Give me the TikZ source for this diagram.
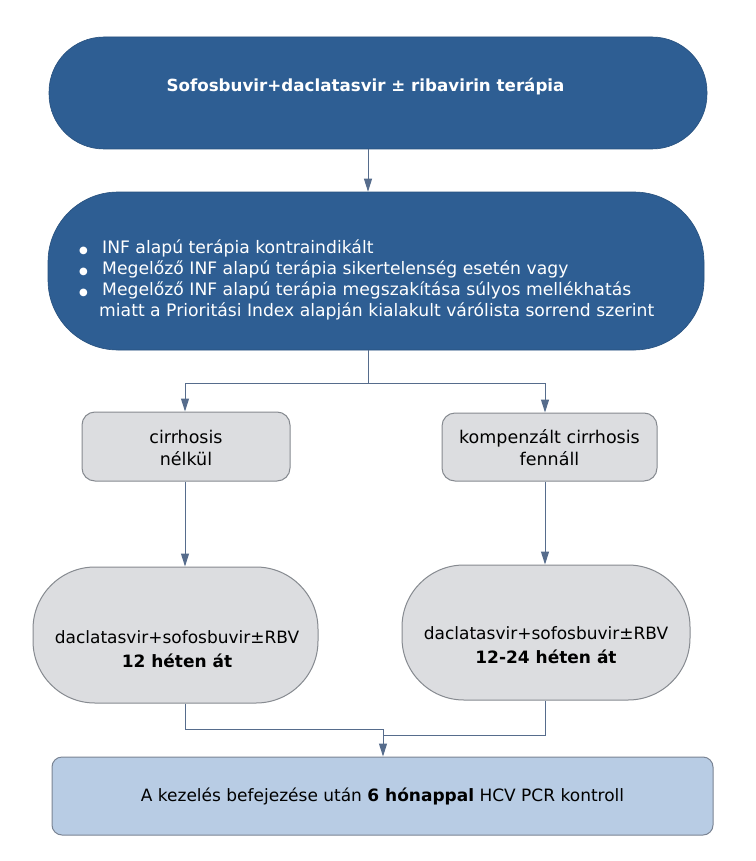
\documentclass[tikz,border=0pt]{standalone}
\usepackage{fontspec}
\setmainfont{DejaVu Sans}
\usetikzlibrary{arrows.meta}
\definecolor{dblue}{HTML}{2E5E93}
\definecolor{gfill}{HTML}{DCDDE0}
\definecolor{gline}{HTML}{868A90}
\definecolor{lblue}{HTML}{B8CCE4}
\definecolor{lbline}{HTML}{7A8494}
\definecolor{conn}{HTML}{566C8C}
\tikzset{
  darkbox/.style={draw=dblue!85!black, line width=0.6pt, fill=dblue, text=white, rounded corners=#1, inner sep=0pt},
  graybox/.style={draw=gline, line width=1pt, fill=gfill, rounded corners=#1, inner sep=0pt, align=center},
  bluebox/.style={draw=lbline, line width=1pt, fill=lblue, rounded corners=10pt, inner sep=0pt, align=center},
  conn/.style={draw=conn, line width=1pt},
  arr/.style={conn, -{Triangle[length=13pt,width=8pt]}},
  plain/.style={inner sep=0pt, align=center},
}
\begin{document}
\begin{tikzpicture}[x=1pt,y=-1pt]
\useasboundingbox (0,0) rectangle (755,861);
\fill[white] (0,0) rectangle (755,861);
% nodes
\node[darkbox=55pt, minimum width=658pt, minimum height=112pt] (top) at (378,93) {};
\node[plain, text=white, font=\fontsize{16.7}{20}\selectfont\bfseries] (toptext) at (365.5,87) {Sofosbuvir+daclatasvir ± ribavirin terápia};
\node[darkbox=70pt, minimum width=656pt, minimum height=158pt] (mid) at (376,271) {};
\node[anchor=west, text=white, inner sep=0pt, font=\fontsize{17.2}{21}\selectfont] (midtext) at (79,281) {%
  \begin{tabular}{@{}l@{}l@{}}
  \makebox[23pt][l]{\fontsize{10}{10}\selectfont ●} & INF alapú terápia kontraindikált\\
  \makebox[23pt][l]{\fontsize{10}{10}\selectfont ●} & Megelőző INF alapú terápia sikertelenség esetén vagy\\
  \makebox[23pt][l]{\fontsize{10}{10}\selectfont ●} & Megelőző INF alapú terápia megszakítása súlyos mellékhatás\\
   & \hspace{-3pt}miatt a Prioritási Index alapján kialakult várólista sorrend szerint
  \end{tabular}};
\node[graybox=13pt, minimum width=208pt, minimum height=69pt] (cirr) at (186,446.5) {};
\node[plain, font=\fontsize{17.5}{22}\selectfont] (cirrtext) at (186,448) {cirrhosis\\nélkül};
\node[graybox=13pt, minimum width=215pt, minimum height=68pt] (komp) at (549.5,447) {};
\node[plain, font=\fontsize{17.5}{22}\selectfont] (komptext) at (549.5,448) {kompenzált cirrhosis\\fennáll};
\node[graybox=62pt, minimum width=285pt, minimum height=136pt] (ovl) at (175.5,635) {};
\node[plain, font=\fontsize{17}{24}\selectfont] (ovltext) at (177,649) {daclatasvir+sofosbuvir±RBV\\\textbf{12 héten át}};
\node[graybox=62pt, minimum width=288pt, minimum height=135pt] (ovr) at (546,632.5) {};
\node[plain, font=\fontsize{17}{24}\selectfont] (ovrtext) at (546,645) {daclatasvir+sofosbuvir±RBV\\\textbf{12-24 héten át}};
\node[bluebox, minimum width=661pt, minimum height=78pt, font=\fontsize{17}{20}\selectfont] (bot) at (382.5,796) {A kezelés befejezése után \textbf{6 hónappal} HCV PCR kontroll};
% helper coordinates
\coordinate (xa) at (368,0);
\coordinate (xl) at (185,0);
\coordinate (xr) at (545,0);
\coordinate (xb) at (383,0);
\coordinate (split) at (368,383);
\coordinate (jl) at (185,729);
\coordinate (jr) at (545,735);
% connectors
\draw[arr] (top.south -| xa) -- (mid.north -| xa);
\draw[conn] (mid.south -| xa) -- (split);
\draw[arr] (split) -| (cirr.north -| xl);
\draw[arr] (split) -| (komp.north -| xr);
\draw[arr] (cirr.south -| xl) -- (ovl.north -| xl);
\draw[arr] (komp.south -| xr) -- (ovr.north -| xr);
\draw[conn] (ovl.south -| xl) -- (jl) -- (jl -| xb);
\draw[conn] (ovr.south -| xr) -- (jr) -- (jr -| xb);
\draw[arr] (jl -| xb) -- (bot.north -| xb);
\end{tikzpicture}
\end{document}
